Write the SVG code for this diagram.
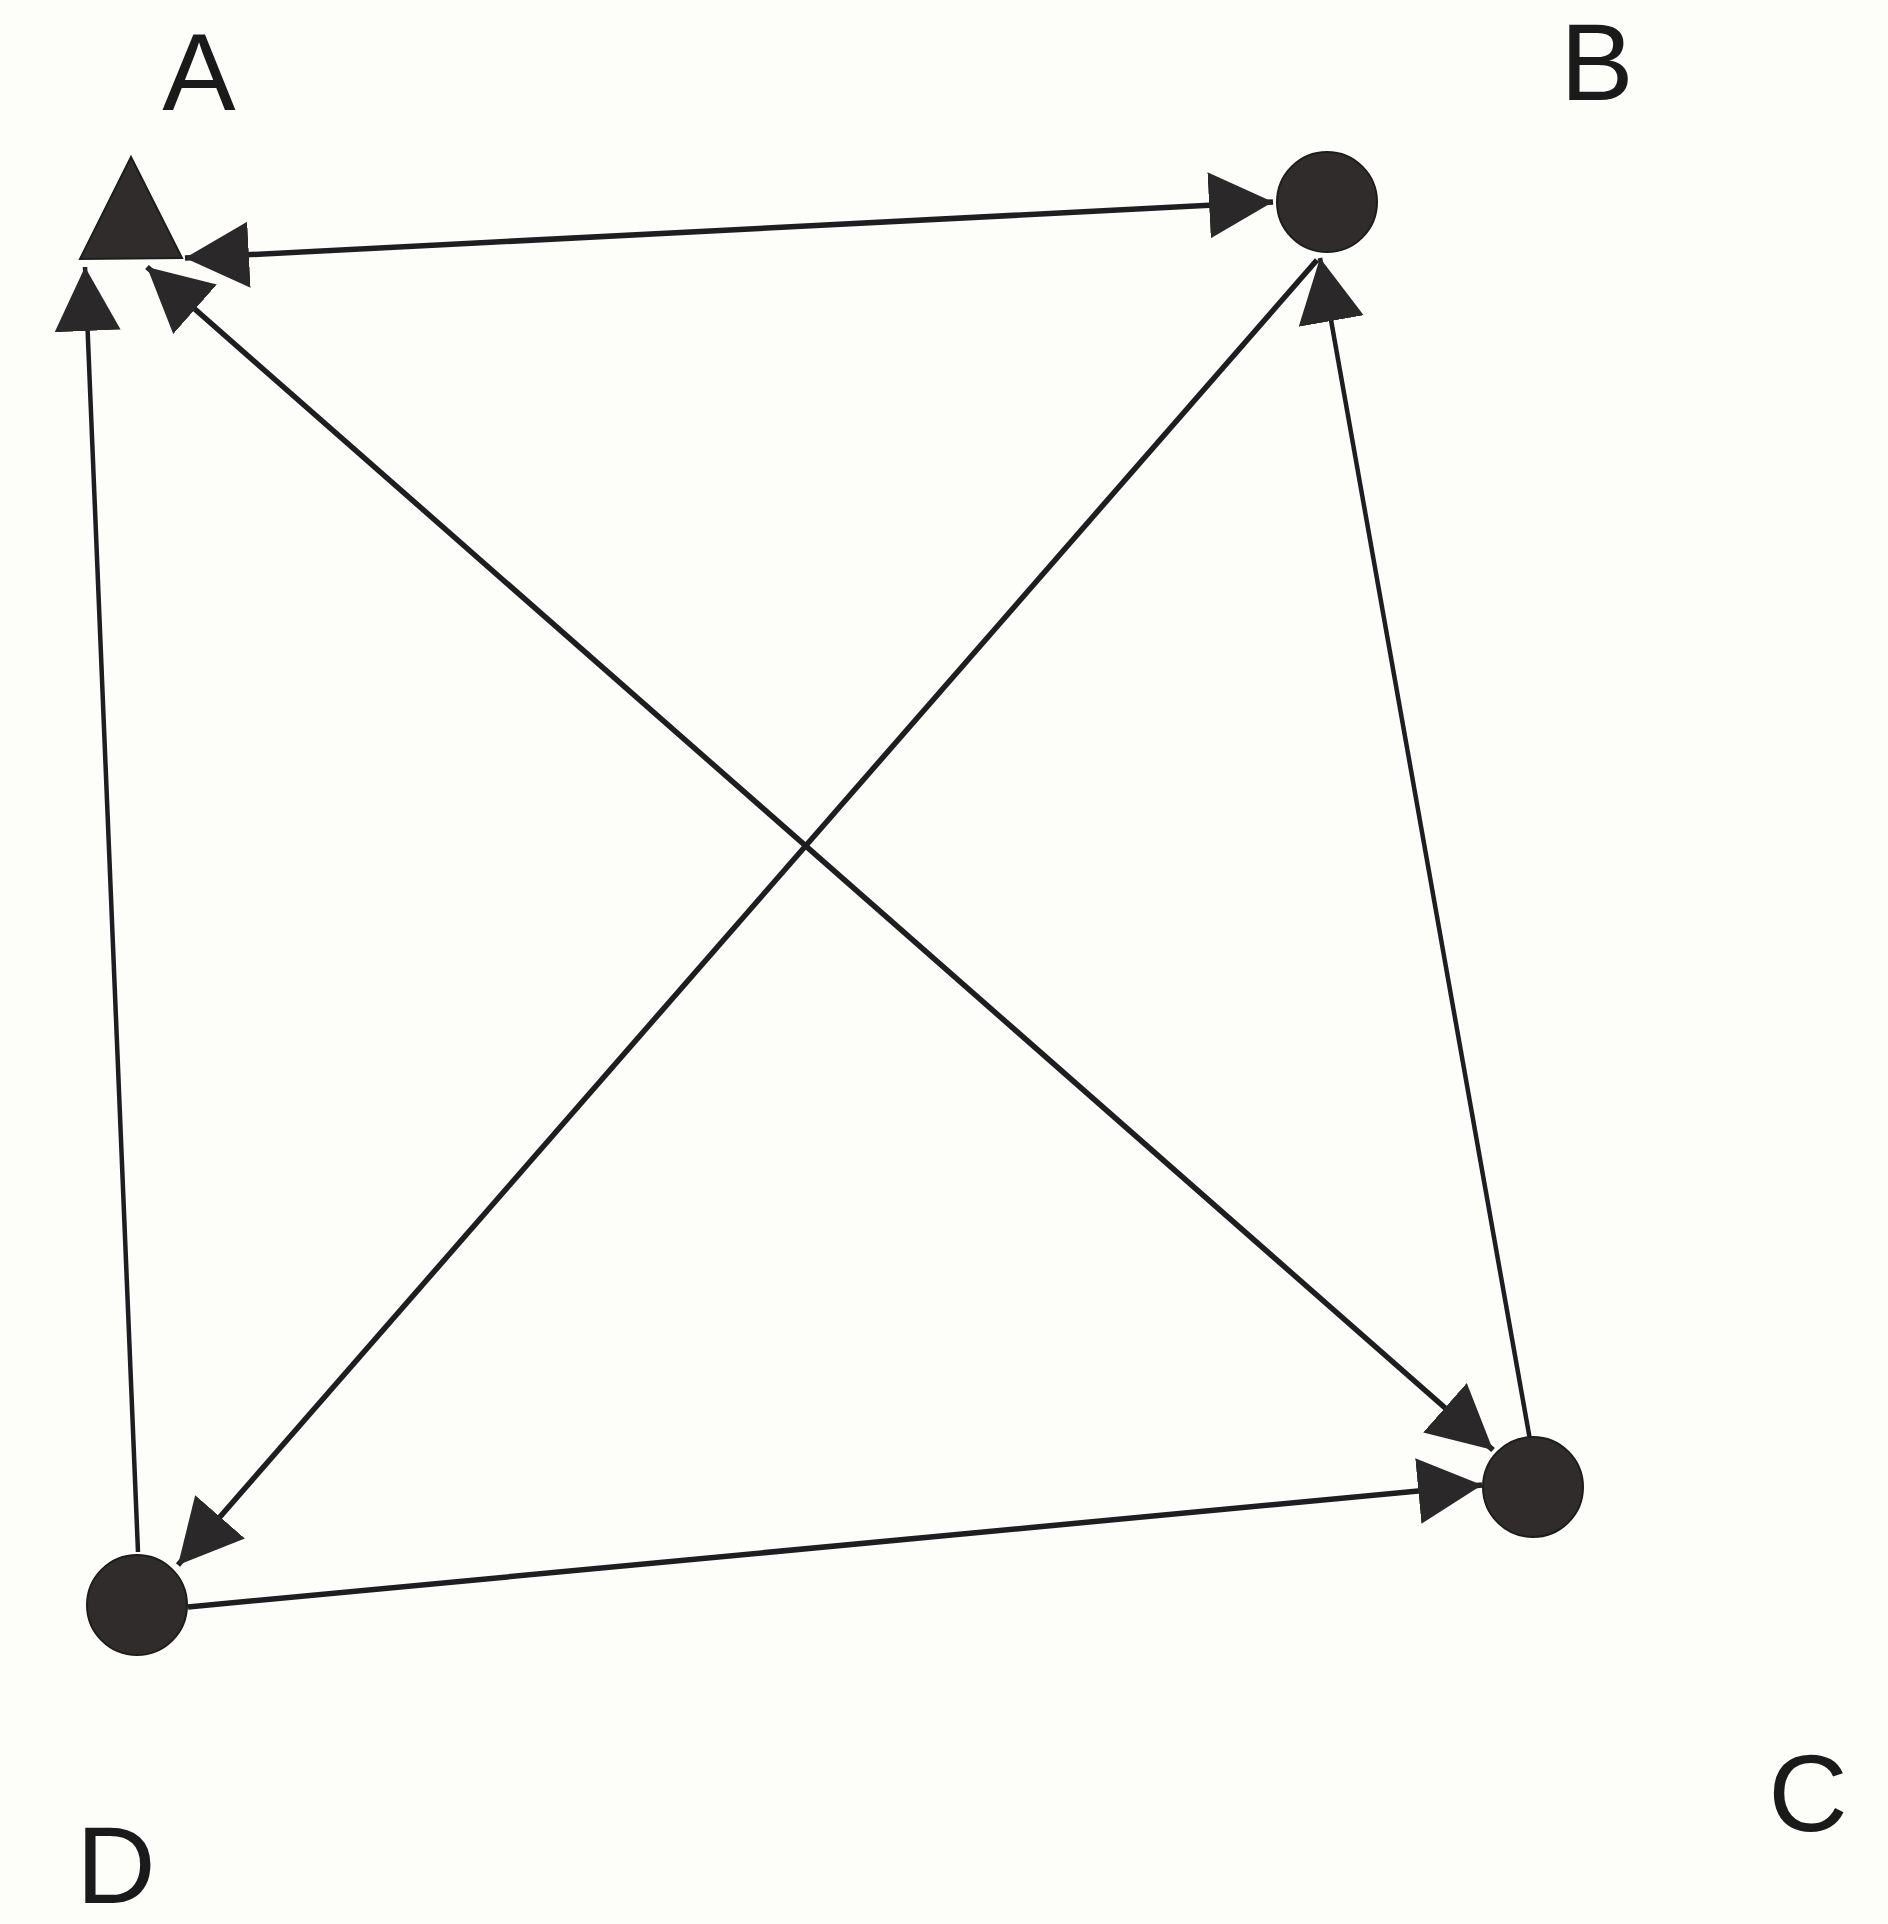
<svg xmlns="http://www.w3.org/2000/svg" width="1888" height="1924" viewBox="0 0 1888 1924">
<style>
.lbl{font-family:"Liberation Sans","DejaVu Sans",sans-serif;font-size:110px;fill:#1a1a1a;text-anchor:middle}
.node{fill:#302c2c;stroke:#1e1c1c;stroke-width:2}
.edge{stroke:#1e1e22;stroke-width:5.5;fill:none}
.thin{stroke-width:4.5}
</style>
<defs>
<marker id="arr" markerUnits="userSpaceOnUse" markerWidth="64" markerHeight="66" viewBox="0 0 62 64" refX="62" refY="32" orient="auto-start-reverse">
<polygon points="0,0 62,32 0,64" fill="#2a2828"/>
</marker>
</defs>
<rect width="1888" height="1924" fill="#fdfefa"/>
<g id="connectors">
<line class="edge" x1="185" y1="258" x2="1273" y2="202" marker-start="url(#arr)" marker-end="url(#arr)"/>
<line class="edge" x1="147" y1="267" x2="1493" y2="1450" marker-start="url(#arr)" marker-end="url(#arr)"/>
<line class="edge" x1="1317" y1="260" x2="178" y2="1565" marker-end="url(#arr)"/>
<line class="edge thin" x1="1530" y1="1440" x2="1320" y2="258" marker-end="url(#arr)"/>
<line class="edge thin" x1="138" y1="1552" x2="85" y2="267" marker-end="url(#arr)"/>
<line class="edge" x1="188" y1="1607" x2="1482" y2="1485" marker-end="url(#arr)"/>
</g>
<g id="node-A">
<polygon class="node" points="131,157 80,259 182,258"/>
<text class="lbl" x="199" y="110">A</text>
</g>
<g id="node-B">
<circle class="node" cx="1327" cy="202" r="50"/>
<text class="lbl" x="1597" y="100">B</text>
</g>
<g id="node-C">
<circle class="node" cx="1533" cy="1487" r="50"/>
<text class="lbl" x="1808" y="1831">C</text>
</g>
<g id="node-D">
<circle class="node" cx="137" cy="1605" r="50"/>
<text class="lbl" x="116" y="1903">D</text>
</g>
</svg>
